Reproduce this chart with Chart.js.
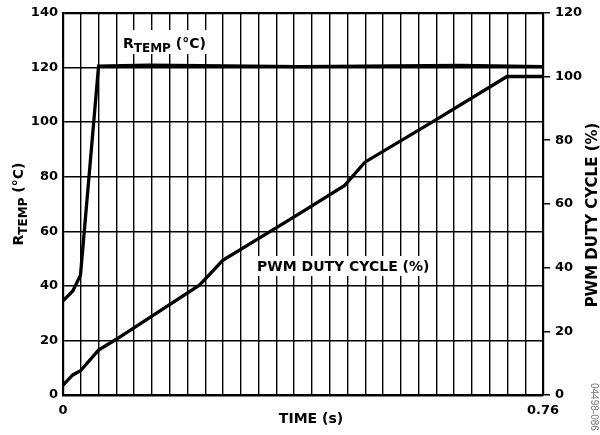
<!DOCTYPE html>
<html>
<head>
<meta charset="utf-8">
<script src="https://cdn.jsdelivr.net/npm/chart.js@4.4.0/dist/chart.umd.min.js"></script>
<style>
  html, body { margin: 0; padding: 0; background: #fff; }
  #wrap { width: 600px; height: 435px; }
</style>
</head>
<body>
<div id="wrap"><canvas id="tempChart"></canvas></div>
<script>
Chart.defaults.font.family = '"DejaVu Sans", sans-serif'
Chart.defaults.font.weight = 'bold'
Chart.defaults.color = '#000'

// R_TEMP trace (°C, left axis)
const rtempTime = [0, 0.0155, 0.0277, 0.0563, 0.137, 0.375, 0.628, 0.76]
const rtempValues = [34.5, 38.1, 43.9, 120.5, 120.8, 120.3, 120.7, 120.3]

// PWM duty cycle trace (%, right axis)
const pwmTime = [0, 0.0155, 0.0277, 0.0563, 0.0843, 0.216, 0.253, 0.375, 0.446, 0.478, 0.589, 0.703, 0.76]
const pwmValues = [3.1, 6.3, 7.6, 14.1, 17.5, 34.5, 42.3, 57, 65.8, 73.1, 86.2, 100, 100]

const xTickLabels = ['0', '0.76']
const xGridDivisions = 27
const leftTicks = [0, 20, 40, 60, 80, 100, 120, 140]
const rightTicks = [0, 20, 40, 60, 80, 100, 120]

const xTitle = 'TIME (s)'
const rightTitle = 'PWM DUTY CYCLE (%)'
const pwmLabel = 'PWM DUTY CYCLE (%)'
const figureId = '04498-086'

const toPoints = (xs, ys) => xs.map((x, i) => ({ x, y: ys[i] }))

// R with TEMP subscript and (°C), drawn left to right from (x, y) baseline
const drawRtemp = (ctx, x, y, big, small) => {
    ctx.textAlign = 'left'
    ctx.textBaseline = 'alphabetic'
    ctx.font = `bold ${big}px "DejaVu Sans"`
    ctx.fillText('R', x, y)
    x += ctx.measureText('R').width
    ctx.font = `bold ${small}px "DejaVu Sans"`
    ctx.fillText('TEMP', x, y + 4)
    x += ctx.measureText('TEMP').width
    ctx.font = `bold ${big}px "DejaVu Sans"`
    ctx.fillText(' (°C)', x, y)
    x += ctx.measureText(' (°C)').width
    return x
}

const rtempWidth = (ctx, big, small) => {
    ctx.font = `bold ${big}px "DejaVu Sans"`
    let w = ctx.measureText('R (°C)').width
    ctx.font = `bold ${small}px "DejaVu Sans"`
    return w + ctx.measureText('TEMP').width
}

const textPlugin = {
    id: 'textPlugin',
    afterDraw(chart) {
        const ctx = chart.ctx
        ctx.save()
        ctx.fillStyle = '#000'

        // in-plot labels on white boxes
        const rw = rtempWidth(ctx, 14, 12)
        ctx.fillStyle = '#fff'
        ctx.fillRect(121, 30, rw + 4, 24)
        ctx.fillStyle = '#000'
        drawRtemp(ctx, 123, 48, 14, 12)

        ctx.font = 'bold 14px "DejaVu Sans"'
        const pw = ctx.measureText(pwmLabel).width
        ctx.fillStyle = '#fff'
        ctx.fillRect(254, 256, pw + 6, 20)
        ctx.fillStyle = '#000'
        ctx.textAlign = 'left'
        ctx.fillText(pwmLabel, 257, 271)

        // x axis title
        ctx.textAlign = 'center'
        ctx.textBaseline = 'middle'
        ctx.font = 'bold 14px "DejaVu Sans"'
        ctx.fillText(xTitle, 311, 419)

        // left axis title
        ctx.save()
        ctx.translate(23, 204)
        ctx.rotate(-Math.PI / 2)
        drawRtemp(ctx, -rtempWidth(ctx, 14, 12) / 2, 0, 14, 12)
        ctx.restore()

        // right axis title
        ctx.save()
        ctx.translate(593, 215)
        ctx.rotate(-Math.PI / 2)
        ctx.textAlign = 'center'
        ctx.textBaseline = 'middle'
        ctx.font = 'bold 15px "DejaVu Sans"'
        ctx.fillText(rightTitle, 0, 0)
        ctx.restore()

        // figure number
        ctx.save()
        ctx.translate(594, 383)
        ctx.rotate(Math.PI / 2)
        ctx.textAlign = 'left'
        ctx.textBaseline = 'middle'
        ctx.fillStyle = '#777'
        ctx.font = '10px "Liberation Sans"'
        ctx.fillText(figureId, 0, 0)
        ctx.restore()

        ctx.restore()
    }
}

const data = {
    datasets: [{
        label: 'RTEMP',
        data: toPoints(rtempTime, rtempValues),
        yAxisID: 'y',
        borderColor: '#000',
        borderWidth: 3.3,
        pointRadius: 0,
        tension: 0
    }, {
        label: 'PWM',
        data: toPoints(pwmTime, pwmValues),
        yAxisID: 'y2',
        borderColor: '#000',
        borderWidth: 3.3,
        pointRadius: 0,
        tension: 0
    }]
}

const options = {
    responsive: false,
    animation: false,
    layout: { padding: { top: 12, left: 0, right: 0, bottom: 0 } },
    plugins: {
        legend: { display: false },
        tooltip: { enabled: false }
    },
    scales: {
        x: {
            type: 'linear',
            min: 0,
            max: 0.76,
            afterBuildTicks: scale => {
                scale.ticks = Array.from({ length: xGridDivisions + 1 }, (_, i) => ({ value: i * 0.76 / xGridDivisions }))
            },
            afterFit: scale => { scale.height = 40 },
            ticks: {
                autoSkip: false,
                maxRotation: 0,
                padding: 8,
                font: { size: 13 },
                callback: (v, i, ticks) => i === 0 ? xTickLabels[0] : (i === ticks.length - 1 ? xTickLabels[1] : '')
            },
            grid: { color: '#000', lineWidth: 1.4, drawTicks: false },
            border: { color: '#000', width: 2.5 }
        },
        y: {
            position: 'left',
            min: 0,
            max: 140,
            afterBuildTicks: scale => { scale.ticks = leftTicks.map(value => ({ value })) },
            afterFit: scale => { scale.width = 63 },
            ticks: { padding: 5, font: { size: 13 } },
            grid: {
                color: '#000',
                lineWidth: c => c.tick && c.tick.value === 140 ? 2.2 : 1.4,
                drawTicks: false
            },
            border: { color: '#000', width: 2.2 }
        },
        y2: {
            position: 'right',
            min: 0,
            max: 120,
            afterBuildTicks: scale => { scale.ticks = rightTicks.map(value => ({ value })) },
            afterFit: scale => { scale.width = 57 },
            ticks: { padding: 5, font: { size: 13 } },
            grid: { drawOnChartArea: false, drawTicks: true, tickLength: 7, color: '#000', lineWidth: 1.5 },
            border: { color: '#000', width: 2.2 }
        }
    }
}

const canvas = document.getElementById('tempChart')
canvas.width = 600
canvas.height = 435
new Chart(canvas, { type: 'line', data, options, plugins: [textPlugin] })
</script>
</body>
</html>
